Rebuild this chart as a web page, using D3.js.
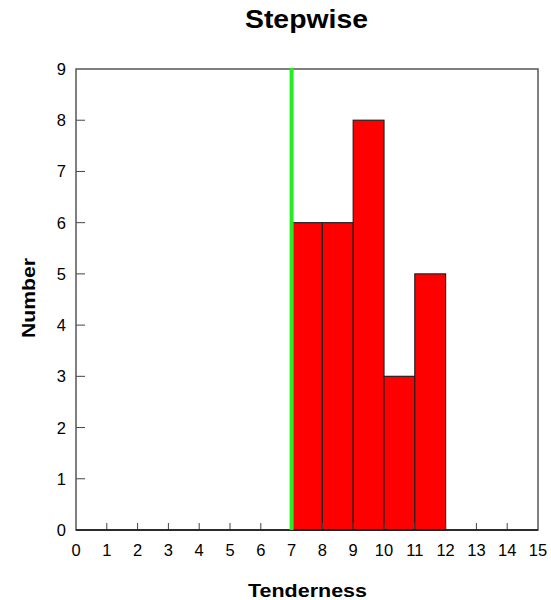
<!DOCTYPE html>
<html>
<head>
<meta charset="utf-8">
<script src="https://cdn.jsdelivr.net/npm/d3@7"></script>
<style>
body{margin:0;background:#fff;}
text{font-family:"Liberation Sans",Arial,sans-serif;}
</style>
</head>
<body>
<div id="chart"></div>
<script>
var w=551;
var h=600;
var margin={left:76,right:13,top:69,bottom:70};

var binStart=[7,8,9,10,11];
var binEnd=[8,9,10,11,12];
var counts=[6,6,8,3,5];
var cutoff=7;
var xTicks=d3.range(0,16);
var yTicks=d3.range(0,10);

var svg=d3.select("#chart")
  .append("svg")
  .attr("width",w)
  .attr("height",h);

var x=d3.scaleLinear().domain([0,15]).range([margin.left,w-margin.right]);
var y=d3.scaleLinear().domain([0,9]).range([h-margin.bottom,margin.top]);

//bars
svg.selectAll("rect.bar")
  .data(counts)
  .enter()
  .append("rect")
  .attr("class","bar")
  .attr("x",function(d,i){return x(binStart[i]);})
  .attr("y",function(d){return y(d);})
  .attr("width",function(d,i){return x(binEnd[i])-x(binStart[i]);})
  .attr("height",function(d){return y(0)-y(d);})
  .attr("fill","#ff0000")
  .attr("stroke","#222")
  .attr("stroke-width",1.2);

//ticks (inward)
svg.selectAll("line.xt")
  .data(xTicks.filter(function(d){return d>0&&d<15;}))
  .enter()
  .append("line")
  .attr("x1",function(d){return x(d);})
  .attr("x2",function(d){return x(d);})
  .attr("y1",y(0))
  .attr("y2",y(0)-7)
  .attr("stroke","#444")
  .attr("stroke-width",1);

svg.selectAll("line.yt")
  .data(yTicks.filter(function(d){return d>0&&d<9;}))
  .enter()
  .append("line")
  .attr("x1",x(0))
  .attr("x2",x(0)+9)
  .attr("y1",function(d){return y(d);})
  .attr("y2",function(d){return y(d);})
  .attr("stroke","#444")
  .attr("stroke-width",1);

//frame
svg.append("rect")
  .attr("x",x(0))
  .attr("y",y(9))
  .attr("width",x(15)-x(0))
  .attr("height",y(0)-y(9))
  .attr("fill","none")
  .attr("stroke","#555")
  .attr("stroke-width",1.5);
svg.append("line")
  .attr("x1",x(0)).attr("x2",x(15))
  .attr("y1",y(0)).attr("y2",y(0))
  .attr("stroke","#111").attr("stroke-width",1.5);

//cutoff line
svg.append("line")
  .attr("x1",x(cutoff)).attr("x2",x(cutoff))
  .attr("y1",y(9)-1).attr("y2",y(0))
  .attr("stroke","#22ee22")
  .attr("stroke-width",4);

//tick labels
svg.selectAll("text.xl")
  .data(xTicks)
  .enter()
  .append("text")
  .text(function(d){return d;})
  .attr("x",function(d){return x(d);})
  .attr("y",y(0)+26)
  .attr("text-anchor","middle")
  .attr("font-size",16.5);

svg.selectAll("text.yl")
  .data(yTicks)
  .enter()
  .append("text")
  .text(function(d){return d;})
  .attr("x",x(0)-10)
  .attr("y",function(d){return y(d)+6;})
  .attr("text-anchor","end")
  .attr("font-size",16.5);

//titles
svg.append("text")
  .text("Stepwise")
  .attr("x",306.5)
  .attr("y",28)
  .attr("text-anchor","middle")
  .attr("font-size",26)
  .attr("font-weight","bold")
  .attr("textLength",123)
  .attr("lengthAdjust","spacingAndGlyphs");

svg.append("text")
  .text("Tenderness")
  .attr("x",307.5)
  .attr("y",597)
  .attr("text-anchor","middle")
  .attr("font-size",18)
  .attr("font-weight","bold")
  .attr("textLength",119)
  .attr("lengthAdjust","spacingAndGlyphs");

svg.append("text")
  .text("Number")
  .attr("transform","translate(35,298) rotate(-90)")
  .attr("text-anchor","middle")
  .attr("font-size",18)
  .attr("font-weight","bold")
  .attr("textLength",80)
  .attr("lengthAdjust","spacingAndGlyphs");
</script>
</body>
</html>
